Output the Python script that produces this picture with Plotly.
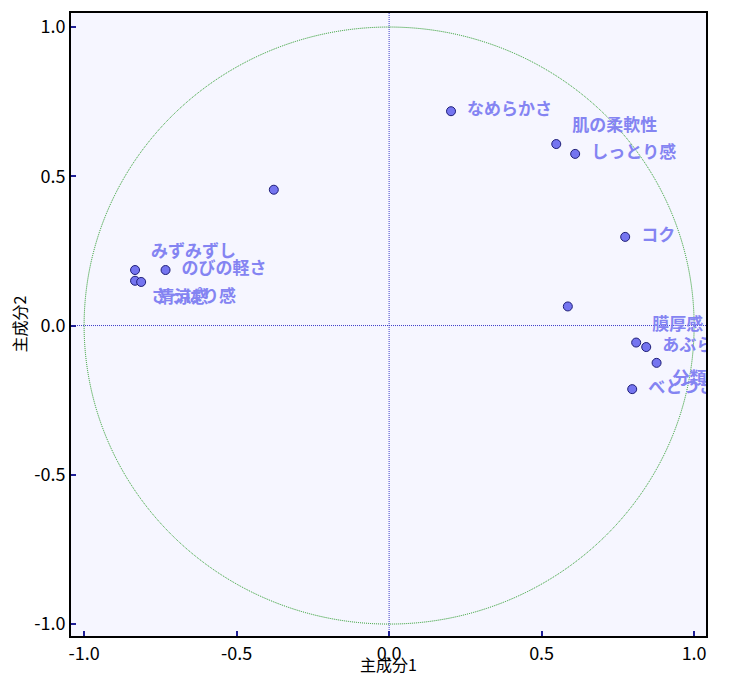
import plotly.graph_objects as go

# ---- data ----
pc1 = [0.203, 0.548, 0.610, -0.378, 0.774, -0.833, -0.733, -0.833, -0.813,
       0.586, 0.810, 0.843, 0.877, 0.797]
pc2 = [0.718, 0.608, 0.575, 0.455, 0.297, 0.186, 0.186, 0.150, 0.146,
       0.064, -0.057, -0.072, -0.125, -0.213]
labels = ["なめらかさ", "肌の柔軟性", "しっとり感", "", "コク", "みずみずし", "のびの軽さ",
          "さっぱり感", "清涼感", "", "膜厚感", "あぶらっぽさ", "分類", "べとつき"]
label_place = ["right", "upper", "right", "right", "right", "upper", "right",
               "lower", "lower", "right", "upper", "right", "lower", "right"]
tick_vals = [-1.0, -0.5, 0.0, 0.5, 1.0]
tick_text = ["-1.0", "-0.5", "0.0", "0.5", "1.0"]

# ---- layout constants ----
W, H = 750, 678
ML, MR, MT, MB = 71, 44, 11, 42
XR = [-1.043, 1.039]
YR = [-1.040, 1.047]
px_x = (W - ML - MR) / (XR[1] - XR[0])
px_y = (H - MT - MB) / (YR[1] - YR[0])
DX, DY = 16, 17
dy_map = {"right": 0, "upper": DY, "lower": -DY}
lab_x = [x + DX / px_x for x in pc1]
lab_y = [y + dy_map[p] / px_y for y, p in zip(pc2, label_place)]

FONT = "Noto Sans CJK JP"

fig = go.Figure()
fig.add_trace(go.Scatter(
    x=lab_x, y=lab_y, mode="text", text=labels, textposition="middle right",
    textfont=dict(family=FONT, size=17, color="#8484F2", weight="bold"),
    cliponaxis=True, hoverinfo="skip", showlegend=False))
fig.add_trace(go.Scatter(
    x=pc1, y=pc2, mode="markers",
    marker=dict(size=9, color="#7575F0", line=dict(color="#1E1E78", width=1)),
    cliponaxis=True, showlegend=False))

# unit circle and cross hairs
fig.add_shape(type="circle", xref="x", yref="y", x0=-1, y0=-1, x1=1, y1=1,
              line=dict(color="#1E961E", width=1, dash="1px,1px"), layer="below")
fig.add_shape(type="line", xref="x", yref="paper", x0=0, x1=0, y0=0, y1=1,
              line=dict(color="#3C3CC8", width=1, dash="1px,1px"), layer="below")
fig.add_shape(type="line", xref="paper", yref="y", x0=0, x1=1, y0=0, y1=0,
              line=dict(color="#3C3CC8", width=1, dash="1px,1px"), layer="below")

axis_common = dict(
    showgrid=False, zeroline=False, showline=True, linecolor="black", linewidth=2,
    mirror=True, ticks="inside", ticklen=5, tickwidth=2, tickcolor="#1E1E96",
    tickvals=tick_vals, ticktext=tick_text,
    tickfont=dict(family=FONT, size=18, color="black"))
fig.update_xaxes(range=XR, **axis_common)
fig.update_yaxes(range=YR, **axis_common)

fig.add_annotation(text="主成分1", xref="paper", yref="paper", x=0.5, y=0,
                   yshift=-28, showarrow=False, xanchor="center", yanchor="middle",
                   font=dict(family=FONT, size=16, color="black"))
fig.add_annotation(text="主成分2", xref="paper", yref="paper", x=0, y=0.5,
                   xshift=-53, showarrow=False, textangle=-90,
                   xanchor="center", yanchor="middle",
                   font=dict(family=FONT, size=16, color="black"))

fig.update_layout(
    width=W, height=H, margin=dict(l=ML, r=MR, t=MT, b=MB),
    plot_bgcolor="#F6F6FF", paper_bgcolor="white", showlegend=False,
    font=dict(family=FONT))

fig.write_html("out.html", config={"displayModeBar": False},
               post_script="document.body.style.margin='0px';"
                           "document.body.style.overflow='hidden';")
